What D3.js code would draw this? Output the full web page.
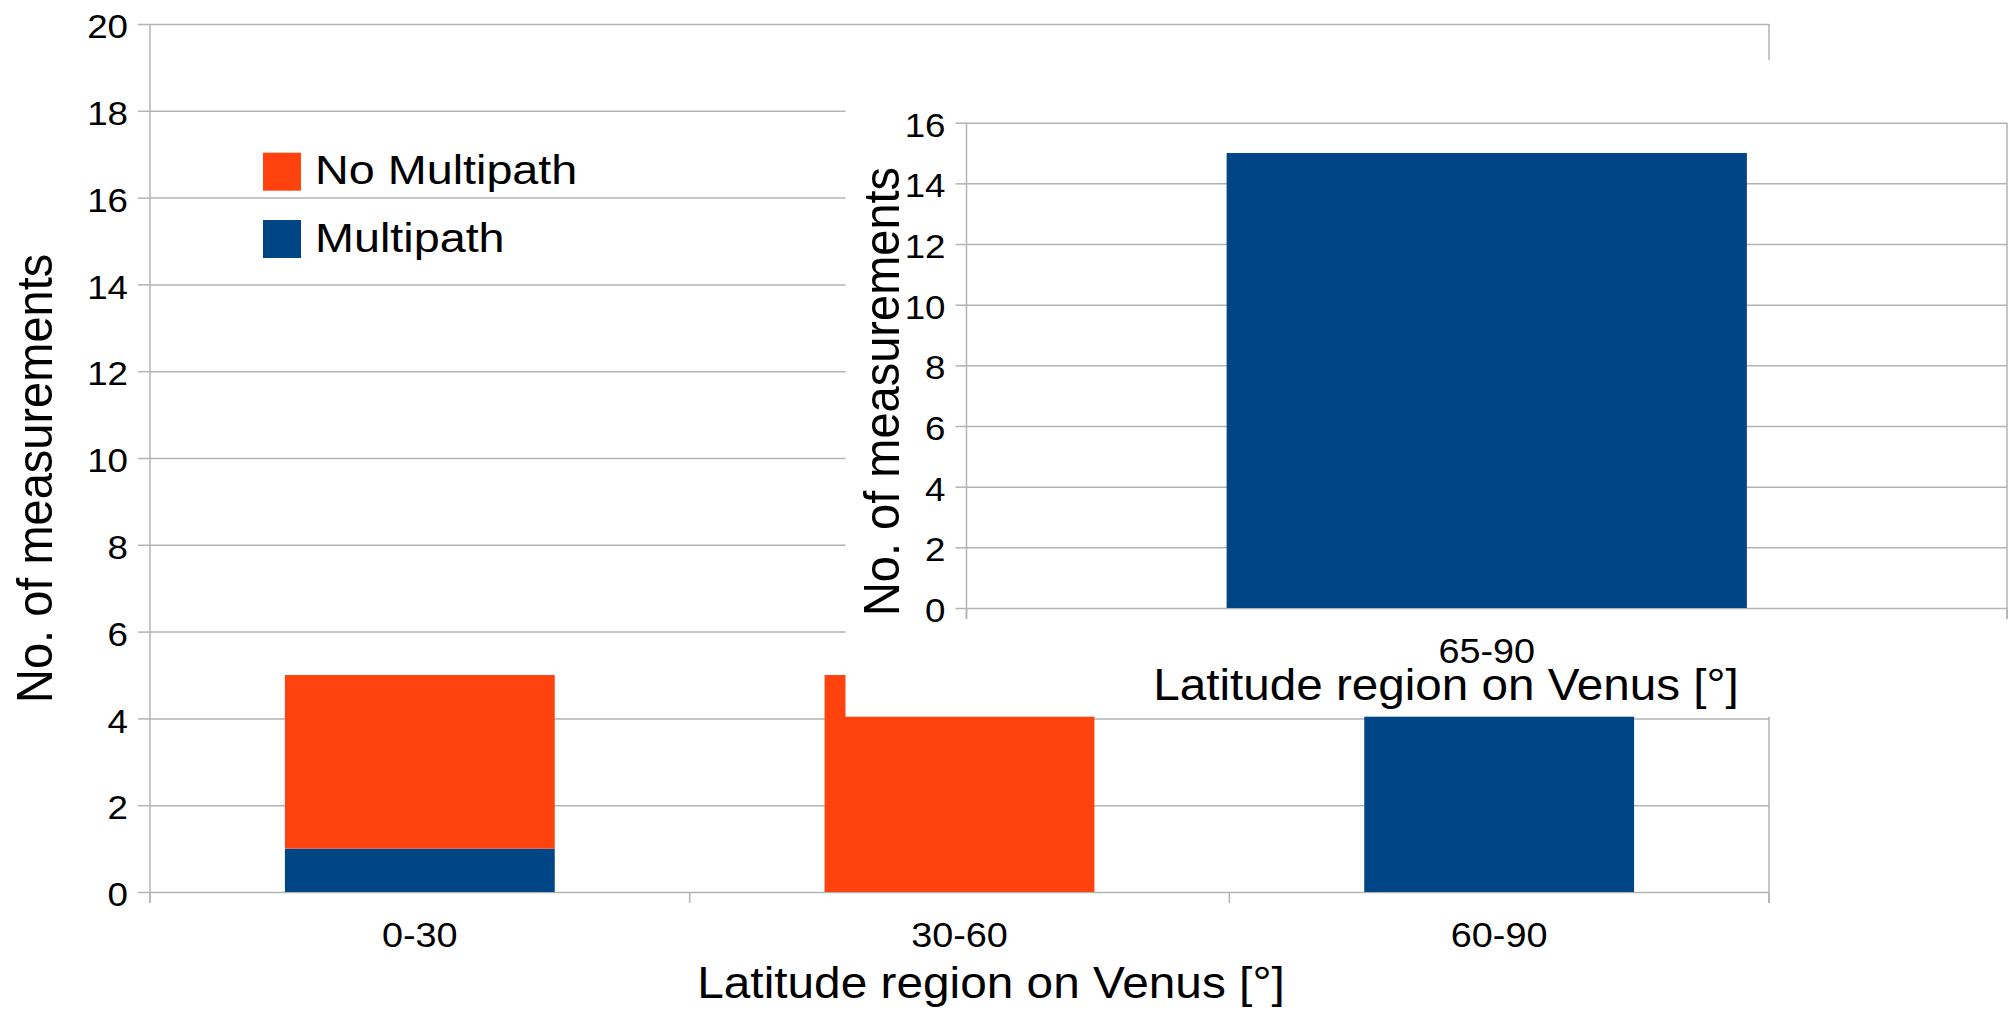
<!DOCTYPE html>
<html><head><meta charset="utf-8">
<script src="https://cdn.jsdelivr.net/npm/d3@7"></script>
<style>
body{margin:0;background:#fff}
svg{display:block}
text{font-family:"Liberation Sans",Arial,Helvetica,sans-serif;fill:#000}
</style>
</head><body>
<svg id="c" width="2010" height="1010"></svg>
<script>
// ---------- data ----------
const categories = ["0-30", "30-60", "60-90"];
const seriesKeys = ["Multipath", "No Multipath"];
const multipathValues = [1, 0, 15];
const noMultipathValues = [4, 5, 0];
const yTickValues = [0, 2, 4, 6, 8, 10, 12, 14, 16, 18, 20];

const insetCategories = ["65-90"];
const insetMultipathValues = [15];
const insetYTickValues = [0, 2, 4, 6, 8, 10, 12, 14, 16];

const legendLabels = ["No Multipath", "Multipath"];
const xTitle = "Latitude region on Venus [°]";
const yTitle = "No. of measurements";

// ---------- style ----------
const colors = {"Multipath": "#004586", "No Multipath": "#ff420e"};
const gridColor = "#b3b3b3";
const SX = 1.08; // horizontal stretch of the reference's text

const svg = d3.select("#c");
svg.append("rect").attr("width", 2010).attr("height", 1010).attr("fill", "#fff");

function styleAxis(g) {
  g.selectAll("path.domain").attr("stroke", gridColor).attr("stroke-width", 1.5);
  g.selectAll(".tick line").attr("stroke", gridColor).attr("stroke-width", 1.5);
}

// ================= MAIN CHART =================
const M = {l: 150, r: 1769, t: 24, b: 892};
const x = d3.scaleBand().domain(categories).range([M.l, M.r]).paddingInner(0).paddingOuter(0);
const y = d3.scaleLinear().domain([0, 20]).range([M.b, M.t]);

const main = svg.append("g");

// gridlines
main.append("g").attr("transform", `translate(${M.l},0)`)
  .call(d3.axisLeft(y).tickValues(yTickValues).tickSize(-(M.r - M.l)).tickFormat(""))
  .call(g => g.select(".domain").remove())
  .call(styleAxis);

// right border
main.append("line").attr("x1", M.r).attr("x2", M.r).attr("y1", M.t).attr("y2", M.b + 11)
  .attr("stroke", gridColor).attr("stroke-width", 1.5);

// band-edge ticks on x axis
const edges = [M.l].concat(categories.map(c => x(c) + x.bandwidth()));
main.selectAll("line.edge").data(edges).join("line").attr("class", "edge")
  .attr("x1", d => d).attr("x2", d => d).attr("y1", M.b).attr("y2", M.b + 11)
  .attr("stroke", gridColor).attr("stroke-width", 1.5);

// stacked bars
const rows = categories.map((c, i) => ({cat: c, "Multipath": multipathValues[i], "No Multipath": noMultipathValues[i]}));
const stacked = d3.stack().keys(seriesKeys)(rows);
main.selectAll("g.series").data(stacked).join("g").attr("class", "series")
  .attr("fill", d => colors[d.key])
  .selectAll("rect").data(d => d).join("rect")
  .attr("x", d => x(d.data.cat) + x.bandwidth() * 0.25)
  .attr("width", x.bandwidth() * 0.5)
  .attr("y", d => y(d[1]))
  .attr("height", d => y(d[0]) - y(d[1]));

// y axis
const yAx = main.append("g").attr("transform", `translate(${M.l},0)`)
  .call(d3.axisLeft(y).tickValues(yTickValues).tickSizeInner(12).tickSizeOuter(0).tickPadding(10));
styleAxis(yAx);
yAx.select(".domain").attr("d", `M0,${M.t}V${M.b + 11}`);
yAx.selectAll("text").attr("font-size", 34).attr("dy", "0.4em")
  .attr("x", -22 / SX).attr("transform", `scale(${SX},1)`);

// x axis labels
const xAx = main.append("g").attr("transform", `translate(0,${M.b})`)
  .call(d3.axisBottom(x).tickSize(0).tickPadding(30));
xAx.select(".domain").remove();
xAx.selectAll("text").attr("font-size", 35).attr("transform", `scale(${SX},1)`)
  .attr("x", 0);

// legend
const legend = main.append("g");
const legendKeys = ["No Multipath", "Multipath"];
legendKeys.forEach((k, i) => {
  legend.append("rect").attr("x", 263).attr("y", 152.7 + i * 67.3).attr("width", 38).attr("height", 38)
    .attr("fill", colors[k]);
  legend.append("text").attr("transform", `translate(315,${184.3 + i * 67.7}) scale(1.14,1)`)
    .attr("font-size", 41).text(legendLabels[i]);
});

// main titles
main.append("text").attr("transform", `translate(991,998) scale(1.086,1)`)
  .attr("text-anchor", "middle").attr("font-size", 44).text(xTitle);
main.append("text").attr("transform", `translate(51.5,478.4) rotate(-90) scale(1,1.08)`)
  .attr("text-anchor", "middle").attr("font-size", 47).text(yTitle);

// ================= INSET CHART =================
const inset = svg.append("g");
// white background occluding the main chart
inset.append("rect").attr("x", 845.5).attr("y", 60).attr("width", 2010 - 845.5).attr("height", 716.7 - 60)
  .attr("fill", "#fff");

const I = {l: 966.5, r: 2007, t: 122.7, b: 608};
const xi = d3.scaleBand().domain(insetCategories).range([I.l, I.r]).paddingInner(0).paddingOuter(0);
const yi = d3.scaleLinear().domain([0, 16]).range([I.b, I.t]);

inset.append("g").attr("transform", `translate(${I.l},0)`)
  .call(d3.axisLeft(yi).tickValues(insetYTickValues).tickSize(-(I.r - I.l)).tickFormat(""))
  .call(g => g.select(".domain").remove())
  .call(styleAxis);

inset.append("line").attr("x1", I.r).attr("x2", I.r).attr("y1", I.t).attr("y2", I.b + 11)
  .attr("stroke", gridColor).attr("stroke-width", 1.5);

const iedges = [I.l].concat(insetCategories.map(c => xi(c) + xi.bandwidth()));
inset.selectAll("line.edge").data(iedges).join("line").attr("class", "edge")
  .attr("x1", d => d).attr("x2", d => d).attr("y1", I.b).attr("y2", I.b + 11)
  .attr("stroke", gridColor).attr("stroke-width", 1.5);

inset.selectAll("rect.bar").data(insetCategories.map((c, i) => ({cat: c, v: insetMultipathValues[i]})))
  .join("rect").attr("class", "bar")
  .attr("x", d => xi(d.cat) + xi.bandwidth() * 0.25)
  .attr("width", xi.bandwidth() * 0.5)
  .attr("y", d => yi(d.v))
  .attr("height", d => yi(0) - yi(d.v))
  .attr("fill", colors["Multipath"]);

const yiAx = inset.append("g").attr("transform", `translate(${I.l},0)`)
  .call(d3.axisLeft(yi).tickValues(insetYTickValues).tickSizeInner(11).tickSizeOuter(0).tickPadding(10));
styleAxis(yiAx);
yiAx.select(".domain").attr("d", `M0,${I.t}V${I.b + 11}`);
yiAx.selectAll("text").attr("font-size", 34).attr("dy", "0.4em")
  .attr("x", -21 / SX).attr("transform", `scale(${SX},1)`);

const xiAx = inset.append("g").attr("transform", `translate(0,${I.b})`)
  .call(d3.axisBottom(xi).tickSize(0).tickPadding(30));
xiAx.select(".domain").remove();
xiAx.selectAll("text").attr("font-size", 35).attr("transform", `scale(${SX},1)`).attr("x", 0);
// band-scale tick groups are translated to centres; keep label centred
xiAx.selectAll(".tick").each(function(d){
  d3.select(this).attr("transform", `translate(${xi(d) + xi.bandwidth()/2},0)`);
});

inset.append("text").attr("transform", `translate(1446,700) scale(1.082,1)`)
  .attr("text-anchor", "middle").attr("font-size", 44).text(xTitle);
inset.append("text").attr("transform", `translate(898.5,391.5) rotate(-90) scale(1,1.08)`)
  .attr("text-anchor", "middle").attr("font-size", 47).text(yTitle);
</script>
</body></html>
